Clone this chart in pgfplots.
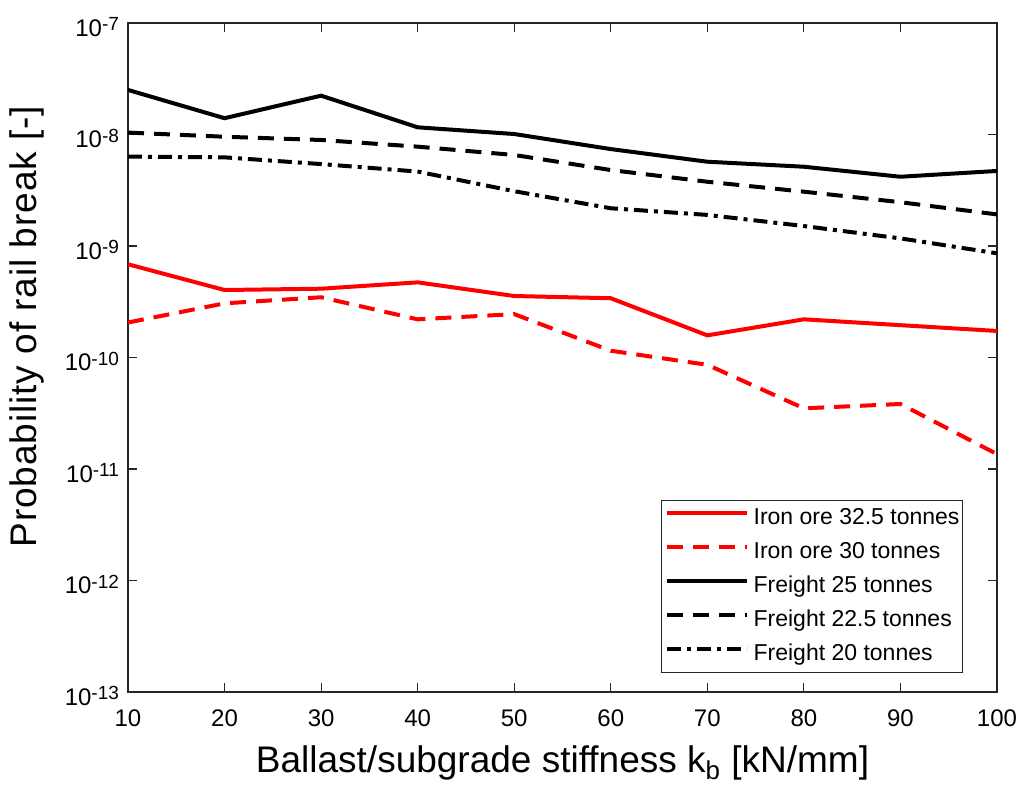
\documentclass[border=0pt]{standalone}
\usepackage{fontspec}
\setmainfont{Liberation Sans}
\usepackage{pgfplots}
\pgfplotsset{compat=1.18}
\begin{document}
\begin{tikzpicture}
\path[use as bounding box] (-64pt,-51.5pt) rectangle (447.5pt,346pt);
\begin{axis}[
  at={(0,0)}, anchor=south west,
  scale only axis, width=434.5pt, height=334.5pt,
  ymode=log, log basis y=10,
  xmin=10, xmax=100, ymin=1e-13, ymax=1e-7,
  xtick={10,20,30,40,50,60,70,80,90,100},
  ytick={1e-13,1e-12,1e-11,1e-10,1e-9,1e-8,1e-7},
  xticklabel={\pgfmathparse{int(round(\tick))}\pgfmathresult},
  yticklabel={\pgfmathparse{int(round(\tick))}\edef\myexp{\pgfmathresult}10\raisebox{2.7pt}{\fontsize{9.5}{10}\selectfont\myexp}},
  ticklabel style={font=\fontsize{12}{14}\selectfont},
  xticklabel style={yshift=-5.5pt},
  yticklabel style={xshift=-1pt, yshift=-2pt},
  major tick length=4.5pt, minor tick length=2.5pt,
  axis line style={draw=black!85, line width=0.6pt},
  every tick/.style={black!85, line width=0.6pt},
  xlabel={Ballast/subgrade stiffness k\textsubscript{b} [kN/mm]},
  ylabel={\addfontfeature{LetterSpace=2.5}Probability of rail break [-]},
  xlabel style={font=\fontsize{18.5}{22}\selectfont, at={(axis description cs:0.5,-0.12)}, anchor=base},
  ylabel style={font=\fontsize{18.5}{22}\selectfont, at={(axis description cs:-0.1168,0.546)}, anchor=center},
  legend style={at={(axis description cs:0.961,0.0278)}, anchor=south east,
    font=\fontsize{11.5}{13}\selectfont, draw=black!85, line width=0.6pt,
    row sep=5.5pt, inner xsep=1.5pt, inner ysep=3.25pt,
    nodes={inner sep=0pt, text height=8.5pt, text depth=3pt}},
  legend cell align=left,
  legend image code/.code={\draw[#1, line width=2pt] (2.5pt,3pt) -- (42.5pt,3pt);},
]
\addplot[red, line width=2pt] coordinates {
(10,6.86e-10) (20,4.03e-10) (30,4.14e-10) (40,4.72e-10) (50,3.56e-10)
(60,3.40e-10) (70,1.58e-10) (80,2.20e-10) (90,1.95e-10) (100,1.73e-10)};
\addlegendentry{\hspace{2.5pt}Iron ore 32.5 tonnes}
\addplot[red, line width=2pt, dash pattern=on 8pt off 5pt] coordinates {
(10,2.06e-10) (20,3.06e-10) (30,3.47e-10) (40,2.20e-10) (50,2.45e-10)
(60,1.15e-10) (70,8.6e-11) (80,3.5e-11) (90,3.83e-11) (100,1.36e-11)};
\addlegendentry{\hspace{2.5pt}Iron ore 30 tonnes}
\addplot[black, line width=2pt] coordinates {
(10,2.51e-8) (20,1.40e-8) (30,2.23e-8) (40,1.16e-8) (50,1.01e-8)
(60,7.4e-9) (70,5.7e-9) (80,5.14e-9) (90,4.18e-9) (100,4.71e-9)};
\addlegendentry{\hspace{2.5pt}Freight 25 tonnes}
\addplot[black, line width=2pt, dash pattern=on 8pt off 5pt] coordinates {
(10,1.04e-8) (20,9.55e-9) (30,8.93e-9) (40,7.78e-9) (50,6.55e-9)
(60,4.8e-9) (70,3.77e-9) (80,3.07e-9) (90,2.47e-9) (100,1.92e-9)};
\addlegendentry{\hspace{2.5pt}Freight 22.5 tonnes}
\addplot[black, line width=2pt, dash pattern=on 7pt off 3pt on 2pt off 3pt] coordinates {
(10,6.33e-9) (20,6.24e-9) (30,5.43e-9) (40,4.65e-9) (50,3.1e-9)
(60,2.18e-9) (70,1.90e-9) (80,1.51e-9) (90,1.17e-9) (100,8.6e-10)};
\addlegendentry{\hspace{2.5pt}Freight 20 tonnes}
\end{axis}
\end{tikzpicture}
\end{document}
